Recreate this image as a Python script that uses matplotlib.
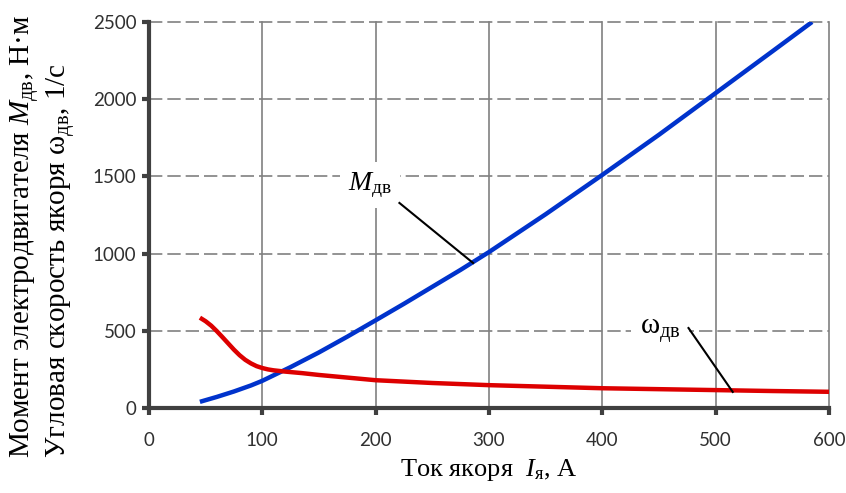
import matplotlib
matplotlib.use("Agg")
import matplotlib.pyplot as plt

# Armature current, A
current_m = [45, 60, 75, 90, 100, 125, 150, 175, 200, 225, 250, 275, 300, 350, 400, 450, 500, 550, 585]
# Motor torque M_дв, N·m
torque = [40, 72, 107, 146, 176, 265, 360, 462, 568, 675, 785, 895, 1010, 1255, 1510, 1770, 2040, 2310, 2500]

current_w = [45, 50, 55, 60, 65, 70, 75, 80, 85, 90, 95, 100, 105, 110, 120, 135, 150,
             200, 250, 300, 350, 400, 450, 500, 550, 600]
# Armature angular speed ω_дв, 1/s
speed = [585, 562, 533, 497, 458, 418, 378, 342, 312, 289, 271, 259, 250, 244, 236, 226, 214,
         180, 162, 148, 138, 128, 122, 116, 110, 105]

x_ticks = [0, 100, 200, 300, 400, 500, 600]
y_ticks = [0, 500, 1000, 1500, 2000, 2500]

plt.rcParams["mathtext.fontset"] = "custom"
plt.rcParams["mathtext.rm"] = "Liberation Serif"
plt.rcParams["mathtext.it"] = "Liberation Serif:italic"

serif = "Liberation Serif"
tick_font = "Lato"

fig = plt.figure(figsize=(8.46, 4.93), dpi=100)
ax = fig.add_axes([0.176, 0.1724, 0.804, 0.783])

ax.plot(current_m, torque, color="#0033cc", lw=3.2, solid_capstyle="butt",
        solid_joinstyle="round", zorder=3)
ax.plot(current_w, speed, color="#dd0000", lw=3.2, solid_capstyle="butt",
        solid_joinstyle="round", zorder=3)

ax.set_xlim(0, 600)
ax.set_ylim(0, 2500)
ax.set_xticks(x_ticks)
ax.set_yticks(y_ticks)

# grid: solid verticals, dashed horizontals
for xv in x_ticks[1:]:
    ax.axvline(xv, color="#808080", lw=1.2, zorder=1, clip_on=False)
for yv in y_ticks[1:]:
    ax.axhline(yv, color="#808080", lw=1.2, dashes=(8, 3), zorder=1, clip_on=False)

for s in ["top", "right"]:
    ax.spines[s].set_visible(False)
for s in ["left", "bottom"]:
    ax.spines[s].set_color("#404040")
    ax.spines[s].set_linewidth(3)

ax.tick_params(axis="both", direction="out", length=5, width=3, color="#404040",
               labelsize=13.5, pad=12)
for lab in ax.get_xticklabels() + ax.get_yticklabels():
    lab.set_fontfamily(tick_font)
    lab.set_color("#303030")
ax.tick_params(axis="y", pad=4)

ax.set_xlabel(r"Ток якоря  $I_{\rm я}$, А", fontfamily=serif, fontsize=19, labelpad=6)

# two-line y-axis caption, left-aligned (bottom-aligned once rotated)
fig.text(0.010, 0.071,
         "Момент электродвигателя $M_{\\rm дв}$, Н·м\n"
         "Угловая скорость якоря $\\rm ω_{дв}$, 1/с",
         rotation=90, ha="left", va="bottom", multialignment="left",
         fontfamily=serif, fontsize=21, linespacing=1.12)

# curve labels with leader lines
ax.text(195, 1445, r"$M_{\rm дв}$", fontsize=20, fontfamily=serif, ha="center", va="center",
        bbox=dict(boxstyle="square,pad=0.3", fc="white", ec="none"), zorder=4)
ax.plot([221, 286], [1328, 939], color="black", lw=1.5, zorder=4)

ax.text(451, 505, r"$\rm ω_{дв}$", fontsize=21, fontfamily=serif, ha="center", va="center",
        bbox=dict(boxstyle="square,pad=0.3", fc="white", ec="none"), zorder=4)
ax.plot([476, 515], [518, 104], color="black", lw=1.5, zorder=4)

fig.savefig("out.png", dpi=100)
